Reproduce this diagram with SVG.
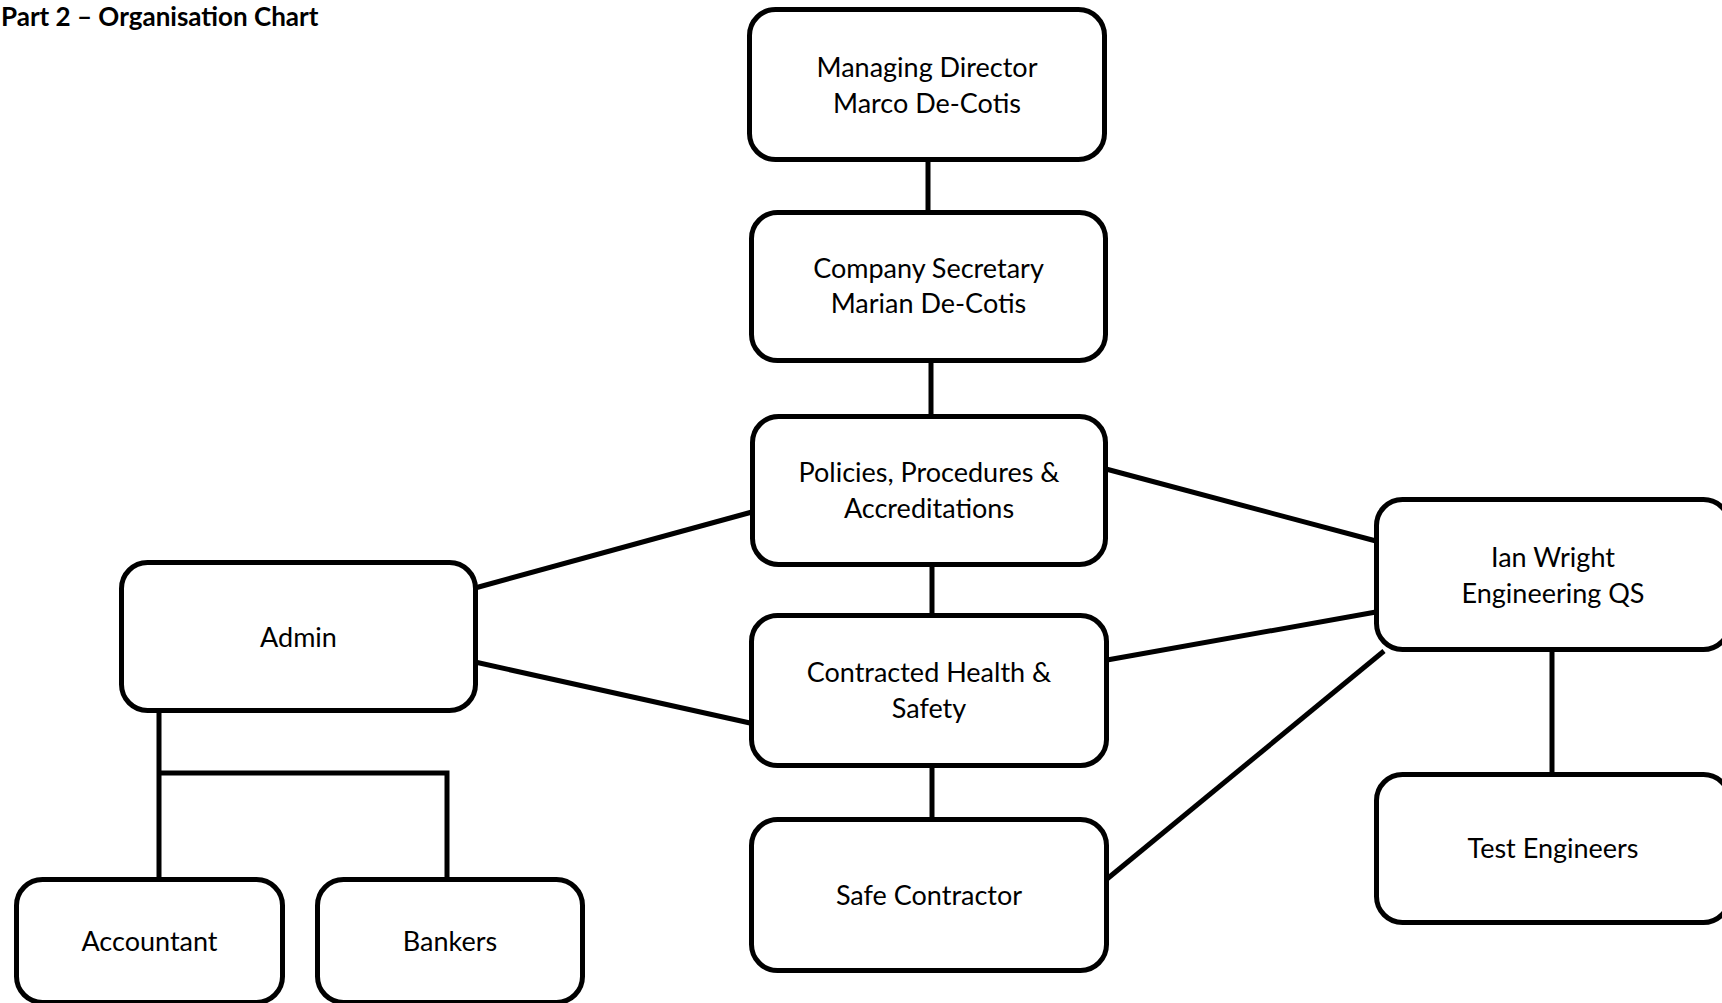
<svg xmlns="http://www.w3.org/2000/svg" width="1722" height="1003" viewBox="0 0 1722 1003">
<style>
.box{fill:#fff;stroke:#000;stroke-width:5}
.conn{stroke:#000;stroke-width:5;fill:none}
.lbl{font-family:Lato,"Liberation Sans",sans-serif;font-size:27px;fill:#000;text-anchor:middle}
.title{font-family:Lato,"Liberation Sans",sans-serif;font-size:26px;font-weight:bold;fill:#000}
</style>
<rect width="1722" height="1003" fill="#fff"/>
<text class="title" x="1" y="26">Part 2 – Organisation Chart</text>
<g id="connectors">
<line class="conn" x1="928" y1="160" x2="928" y2="212"/>
<line class="conn" x1="931" y1="361" x2="931" y2="416"/>
<line class="conn" x1="932" y1="565" x2="932" y2="615"/>
<line class="conn" x1="932" y1="766" x2="932" y2="819"/>
<line class="conn" x1="1106" y1="469" x2="1376" y2="541"/>
<line class="conn" x1="1107" y1="660" x2="1376" y2="612"/>
<line class="conn" x1="1107" y1="879" x2="1384" y2="651"/>
<line class="conn" x1="475" y1="588" x2="752" y2="512"/>
<line class="conn" x1="475" y1="662" x2="750" y2="723"/>
<polyline class="conn" points="159,711 159,879"/>
<polyline class="conn" points="159,773 447,773 447,879"/>
<line class="conn" x1="1552" y1="650" x2="1552" y2="774"/>
</g>
<g id="md"><rect class="box" x="749.5" y="9.5" width="355" height="150" rx="26"/><text class="lbl" x="927" y="77">Managing Director</text><text class="lbl" x="927" y="113">Marco De-Cotis</text></g>
<g id="cs"><rect class="box" x="751.5" y="212.5" width="354" height="148" rx="26"/><text class="lbl" x="928.5" y="278">Company Secretary</text><text class="lbl" x="928.5" y="313">Marian De-Cotis</text></g>
<g id="policies"><rect class="box" x="752.5" y="416.5" width="353" height="148" rx="26"/><text class="lbl" x="929" y="482">Policies, Procedures &amp;</text><text class="lbl" x="929" y="518">Accreditations</text></g>
<g id="health"><rect class="box" x="751.5" y="615.5" width="355" height="150" rx="26"/><text class="lbl" x="929" y="682">Contracted Health &amp;</text><text class="lbl" x="929" y="718">Safety</text></g>
<g id="safe"><rect class="box" x="751.5" y="819.5" width="355" height="151" rx="26"/><text class="lbl" x="929" y="905">Safe Contractor</text></g>
<g id="admin"><rect class="box" x="121.5" y="562.5" width="354" height="148" rx="26"/><text class="lbl" x="298.5" y="647">Admin</text></g>
<g id="ian"><rect class="box" x="1376.5" y="499.5" width="353" height="150" rx="26"/><text class="lbl" x="1553" y="567">Ian Wright</text><text class="lbl" x="1553" y="603">Engineering QS</text></g>
<g id="test"><rect class="box" x="1376.5" y="774.5" width="353" height="148" rx="26"/><text class="lbl" x="1553" y="858">Test Engineers</text></g>
<g id="accountant"><rect class="box" x="16.5" y="879.5" width="266" height="123" rx="26"/><text class="lbl" x="149.5" y="951">Accountant</text></g>
<g id="bankers"><rect class="box" x="317.5" y="879.5" width="265" height="123" rx="26"/><text class="lbl" x="450" y="951">Bankers</text></g>
</svg>
